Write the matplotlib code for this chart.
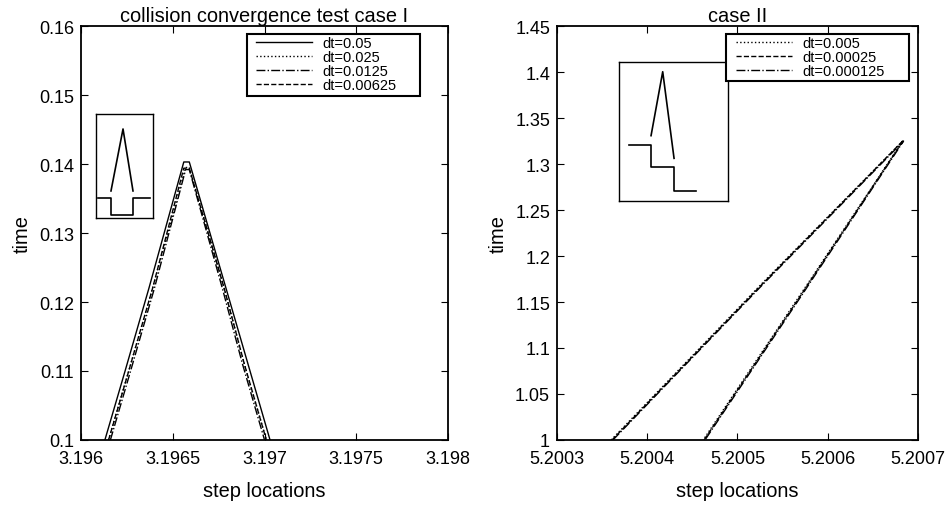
import matplotlib.pyplot as plt
from matplotlib.patches import Rectangle

plt.rcParams['font.family'] = ['Liberation Sans', 'DejaVu Sans']

# case I: four time steps, each a peak going up and back down
x_dt05 = [3.19613, 3.19624, 3.19637, 3.19656, 3.19659, 3.19679, 3.19691, 3.19703]
y_dt05 = [0.100, 0.110, 0.122, 0.1403, 0.1403, 0.122, 0.111, 0.100]
x_dt025 = [3.19615, 3.19626, 3.19639, 3.19657, 3.19659, 3.19678, 3.19689, 3.19701]
y_dt025 = [0.100, 0.110, 0.122, 0.1395, 0.1395, 0.122, 0.111, 0.100]
x_dt0125 = [3.19616, 3.19627, 3.19640, 3.19657, 3.19659, 3.19677, 3.19688, 3.19700]
y_dt0125 = [0.100, 0.110, 0.122, 0.1392, 0.1392, 0.122, 0.111, 0.100]
x_dt00625 = [3.19615, 3.19626, 3.19639, 3.19656, 3.19659, 3.19678, 3.19689, 3.19701]
y_dt00625 = [0.100, 0.110, 0.122, 0.1394, 0.1394, 0.122, 0.111, 0.100]

# case II: three time steps
x2_dt005 = [5.200360, 5.200527, 5.200683, 5.200571, 5.200462]
y2_dt005 = [1.000, 1.170, 1.325, 1.160, 1.000]
x2_dt00025 = [5.200361, 5.200528, 5.200684, 5.200572, 5.200463]
y2_dt00025 = [1.000, 1.170, 1.326, 1.160, 1.000]
x2_dt000125 = [5.200362, 5.200529, 5.200684, 5.200573, 5.200464]
y2_dt000125 = [1.000, 1.170, 1.325, 1.160, 1.000]

# schematic sketches drawn inside the little boxes (box fractions)
ins1_arrow_x = [0.263, 0.474, 0.649]
ins1_arrow_y = [0.26, 0.856, 0.26]
ins1_step_x = [0.035, 0.263, 0.263, 0.649, 0.649, 0.947]
ins1_step_y = [0.192, 0.192, 0.029, 0.029, 0.192, 0.192]
ins2_arrow_x = [0.294, 0.401, 0.505]
ins2_arrow_y = [0.470, 0.930, 0.307]
ins2_step_x = [0.092, 0.294, 0.294, 0.505, 0.505, 0.706]
ins2_step_y = [0.403, 0.403, 0.242, 0.242, 0.074, 0.074]

FS = 13     # tick labels
LFS = 14.4  # titles / axis labels


def style_axes(ax):
	ax.tick_params(direction='in', top=True, right=True, length=5, labelsize=FS)
	ax.tick_params(axis='x', pad=7)
	ax.tick_params(axis='y', pad=5)
	for s in ax.spines.values():
		s.set_linewidth(1.3)
	ax.set_xlabel("step locations", fontsize=LFS, labelpad=10)
	ax.set_ylabel("time", fontsize=LFS, labelpad=5)
	# draw main axes above the inset so the legend box can hide its corner
	ax.set_zorder(2)
	ax.patch.set_alpha(0)


def add_inset(fig, rect, ax_x, ax_y, st_x, st_y):
	ins = fig.add_axes(rect)
	ins.set_zorder(1)
	ins.plot(ax_x, ax_y, color='black', lw=1.2)
	ins.plot(st_x, st_y, color='black', lw=1.2)
	ins.set_xlim(0, 1)
	ins.set_ylim(0, 1)
	ins.set_xticks([])
	ins.set_yticks([])
	for s in ins.spines.values():
		s.set_linewidth(1.0)


def legend(ax, anchor, box):
	# matlab style legend: wide box, entries hugging the left side
	ax.legend(loc='upper left', bbox_to_anchor=anchor, borderaxespad=0,
		fontsize=10.5, frameon=False, handlelength=3.8, handletextpad=0.7,
		labelspacing=0.0, borderpad=0.0)
	ax.add_patch(Rectangle(box[:2], box[2], box[3], transform=ax.transAxes,
		facecolor='white', edgecolor='black', lw=1.5, zorder=4))
	ax.get_legend().set_zorder(5)


fig = plt.figure(figsize=(9.5, 5.06), dpi=100)

ax1 = fig.add_axes([0.0853, 0.1285, 0.3863, 0.818])
ax1.plot(x_dt05, y_dt05, 'k-', lw=1.0, label='dt=0.05')
ax1.plot(x_dt025, y_dt025, 'k:', lw=1.0, label='dt=0.025')
ax1.plot(x_dt0125, y_dt0125, 'k-.', lw=1.0, label='dt=0.0125')
ax1.plot(x_dt00625, y_dt00625, 'k--', lw=1.0, label='dt=0.00625')
ax1.set_xlim(3.196, 3.198)
ax1.set_ylim(0.1, 0.16)
ax1.set_xticks([3.196, 3.1965, 3.197, 3.1975, 3.198])
ax1.set_xticklabels(['3.196', '3.1965', '3.197', '3.1975', '3.198'])
ax1.set_yticks([0.1, 0.11, 0.12, 0.13, 0.14, 0.15, 0.16])
ax1.set_yticklabels(['0.1', '0.11', '0.12', '0.13', '0.14', '0.15', '0.16'])
ax1.set_title("collision convergence test case I", fontsize=LFS, pad=4)
style_axes(ax1)
legend(ax1, (0.478, 0.975), (0.452, 0.831, 0.471, 0.150))

ax2 = fig.add_axes([0.5863, 0.1285, 0.38, 0.818])
ax2.plot(x2_dt005, y2_dt005, 'k:', lw=1.0, label='dt=0.005')
ax2.plot(x2_dt00025, y2_dt00025, 'k--', lw=1.0, label='dt=0.00025')
ax2.plot(x2_dt000125, y2_dt000125, 'k-.', lw=1.0, label='dt=0.000125')
ax2.set_xlim(5.2003, 5.2007)
ax2.set_ylim(1, 1.45)
ax2.set_xticks([5.2003, 5.2004, 5.2005, 5.2006, 5.2007])
ax2.set_xticklabels(['5.2003', '5.2004', '5.2005', '5.2006', '5.2007'])
ax2.set_yticks([1, 1.05, 1.1, 1.15, 1.2, 1.25, 1.3, 1.35, 1.4, 1.45])
ax2.set_yticklabels(['1', '1.05', '1.1', '1.15', '1.2', '1.25', '1.3', '1.35', '1.4', '1.45'])
ax2.set_title("case II", fontsize=LFS, pad=4)
style_axes(ax2)
legend(ax2, (0.497, 0.975), (0.468, 0.867, 0.507, 0.1135))

add_inset(fig, [96 / 950, 1 - 219 / 506, 57 / 950, 104 / 506],
	ins1_arrow_x, ins1_arrow_y, ins1_step_x, ins1_step_y)
add_inset(fig, [619 / 950, 1 - 202 / 506, 109 / 950, 139 / 506],
	ins2_arrow_x, ins2_arrow_y, ins2_step_x, ins2_step_y)

fig.savefig("out.png", dpi=100)
